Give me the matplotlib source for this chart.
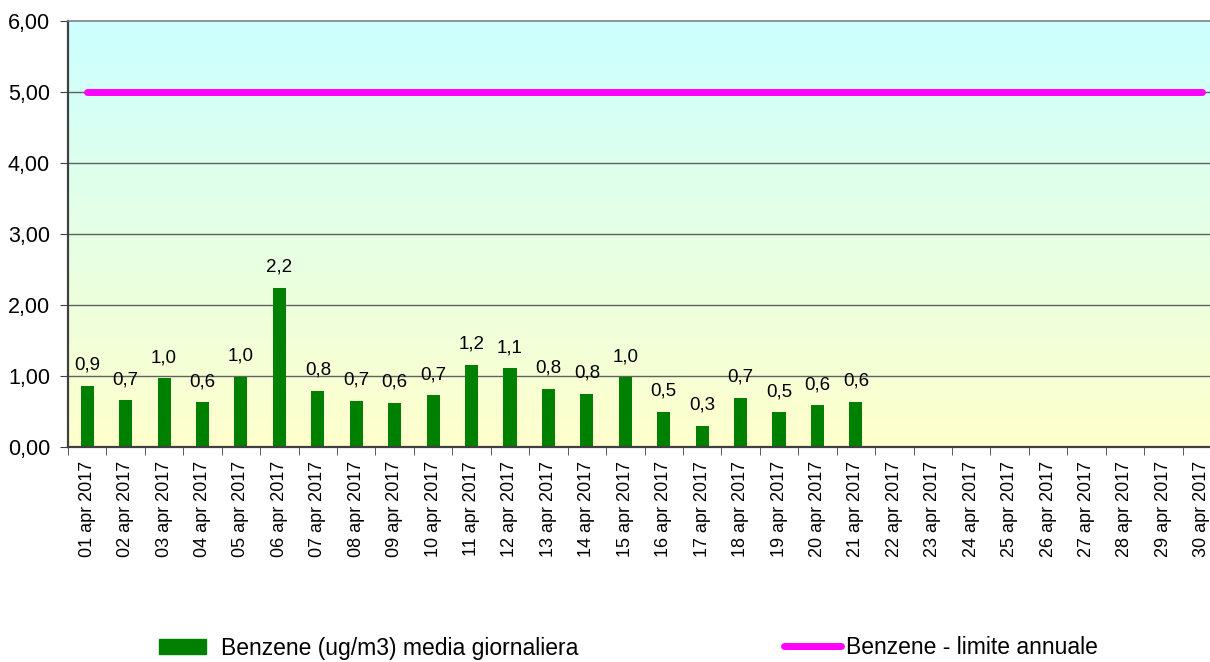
import numpy as np
import matplotlib
matplotlib.use("Agg")
import matplotlib.pyplot as plt
from matplotlib.patches import Patch
from matplotlib.lines import Line2D

plt.rcParams['font.family'] = ['Liberation Sans', 'DejaVu Sans']

days = ["%02d apr 2017" % d for d in range(1, 31)]
benzene = [0.86, 0.66, 0.97, 0.63, 0.99, 2.24, 0.79, 0.65, 0.62, 0.73,
           1.16, 1.11, 0.82, 0.75, 0.98, 0.50, 0.30, 0.69, 0.49, 0.59, 0.64]
limit = [5.0] * len(days)

W, H = 1210, 662
fig = plt.figure(figsize=(W / 100, H / 100), dpi=100)
ax = fig.add_axes([68 / W, 1 - 447 / H, (1221 - 68) / W, (447 - 21) / H])

x = np.arange(len(days))

# background gradient cyan -> light yellow
top = np.array([204, 255, 255]) / 255
bot = np.array([255, 255, 204]) / 255
t = np.linspace(0, 1, 256)[:, None]
grad = (top * (1 - t) + bot * t)[:, None, :]
ax.imshow(grad, extent=[-0.5, len(days) - 0.5, 0, 6], aspect='auto', zorder=0)

ax.set_xlim(-0.5, len(days) - 0.5)
ax.set_ylim(0, 6)

for yv in range(1, 6):
    ax.axhline(yv, color='#606060', lw=1.0, zorder=1)

bars = ax.bar(x[:len(benzene)], benzene, width=0.34, color='#008000', zorder=2)
for xi, v in zip(x, benzene):
    ax.text(xi, v + 0.17, ("%.1f" % v).replace('.', ','), ha='center', va='bottom',
            fontsize=13.5, zorder=4)

ax.plot(x, limit, color='#FF00FF', lw=5, solid_capstyle='round', zorder=3)

ax.set_yticks(range(0, 7))
ax.set_yticklabels(["%d,00" % v for v in range(0, 7)], fontsize=15.5)
ax.set_xticks(x)
ax.set_xticklabels(days, rotation=90, fontsize=13)
ax.set_xticks(np.arange(-0.5, len(days)), minor=True)
ax.tick_params(axis='x', which='major', length=0, pad=10)
ax.tick_params(axis='x', which='minor', length=6, color='#404040')
ax.tick_params(axis='y', length=6, color='#404040', pad=7)

for side in ['left', 'bottom']:
    ax.spines[side].set_color('#404040')
    ax.spines[side].set_linewidth(1.6)
for side in ['top', 'right']:
    ax.spines[side].set_color('#808080')
    ax.spines[side].set_linewidth(1.2)

fig.legend(handles=[Patch(color='#008000')], labels=["Benzene (ug/m3) media giornaliera"],
           loc='center left', bbox_to_anchor=(159 / W, 1 - 648 / H), frameon=False,
           fontsize=16.5, handlelength=2.05, handleheight=0.65, handletextpad=0.65,
           borderpad=0, borderaxespad=0)
fig.legend(handles=[Line2D([], [], color='#FF00FF', lw=5, solid_capstyle='round')],
           labels=["Benzene - limite annuale"],
           loc='center left', bbox_to_anchor=(784 / W, 1 - 648 / H), frameon=False,
           fontsize=16.5, handlelength=2.5, handletextpad=0.2,
           borderpad=0, borderaxespad=0)

fig.savefig("out.png", dpi=100)
